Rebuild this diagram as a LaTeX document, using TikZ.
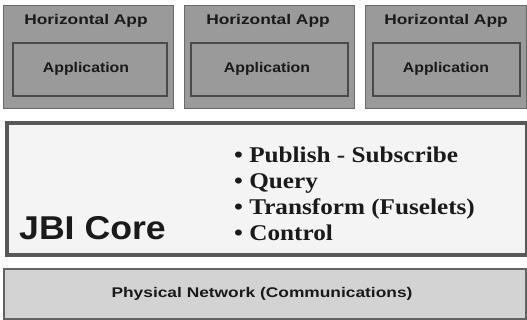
\documentclass[tikz,border=0pt]{standalone}
\usepackage{fontspec}
\newfontfamily\appfont[FakeStretch=1.24]{Liberation Sans}
\newfontfamily\appfontb[FakeStretch=1.13]{Liberation Sans}
\newfontfamily\corefont[FakeStretch=1.08]{Liberation Sans}
\newfontfamily\listfont[FakeStretch=1.12]{Liberation Serif}
\definecolor{topfill}{HTML}{9A9A9A}
\definecolor{topline}{HTML}{6A6A6A}
\definecolor{innerline}{HTML}{4A4A4A}
\definecolor{corefill}{HTML}{F4F4F4}
\definecolor{coreline}{HTML}{585858}
\definecolor{netfill}{HTML}{D3D3D3}
\definecolor{netline}{HTML}{626262}
\definecolor{txt}{HTML}{1A1A1A}
\begin{document}
\begin{tikzpicture}[x=1pt,y=-1pt,
  appouter/.style={draw=topline, fill=topfill, line width=1.2pt, inner sep=0pt, anchor=north west},
  appinner/.style={draw=innerline, fill=topfill, line width=1.6pt, inner sep=0pt, anchor=north west},
  apptext/.style={text=txt, inner sep=0pt, anchor=base, font=\appfont\bfseries\fontsize{14}{16}\selectfont},
  apptextb/.style={text=txt, inner sep=0pt, anchor=base, font=\appfontb\bfseries\fontsize{14}{16}\selectfont},
  corebox/.style={draw=coreline, fill=corefill, line width=4pt, inner sep=0pt, anchor=north west},
  netbox/.style={draw=netline, fill=netfill, line width=1.5pt, inner sep=0pt, anchor=north west},
  listtext/.style={text=txt, inner sep=0pt, anchor=base west, font=\listfont\bfseries\fontsize{22.5}{26}\selectfont},
  coretext/.style={text=txt, inner sep=0pt, anchor=base west, font=\corefont\bfseries\fontsize{33}{38}\selectfont}
]
\useasboundingbox (0,0) rectangle (527,320);
\fill[white] (0,0) rectangle (527,320);
% top application boxes
\node[appouter, minimum width=170pt, minimum height=103pt] (h1) at (3,5) {};
\node[appouter, minimum width=170pt, minimum height=103pt] (h2) at (184,5) {};
\node[appouter, minimum width=161pt, minimum height=103pt] (h3) at (365,5) {};
\node[appinner, minimum width=154pt, minimum height=53pt] (a1) at (12,42) {};
\node[appinner, minimum width=157pt, minimum height=53pt] (a2) at (190,42) {};
\node[appinner, minimum width=147pt, minimum height=53pt] (a3) at (372,42) {};
\node[apptext] (ht1) at (86,25) {Horizontal App};
\node[apptext] (ht2) at (268,25) {Horizontal App};
\node[apptext] (ht3) at (446,25) {Horizontal App};
\node[apptextb] (at1) at (86,73) {Application};
\node[apptextb] (at2) at (267,73) {Application};
\node[apptextb] (at3) at (446,73) {Application};
% JBI core
\node[corebox, minimum width=520pt, minimum height=132pt] (core) at (5,121) {};
\node[coretext] (coret) at (19,240) {JBI Core};
\node[listtext] (l1) at (234,163) {\textbullet\ Publish - Subscribe};
\node[listtext] (l2) at (234,189) {\textbullet\ Query};
\node[listtext] (l3) at (234,215) {\textbullet\ Transform (Fuselets)};
\node[listtext] (l4) at (234,241) {\textbullet\ Control};
% physical network
\node[netbox, minimum width=522pt, minimum height=50pt] (net) at (3,268) {};
\node[apptext] (nett) at (262,297) {Physical Network (Communications)};
\end{tikzpicture}
\end{document}
